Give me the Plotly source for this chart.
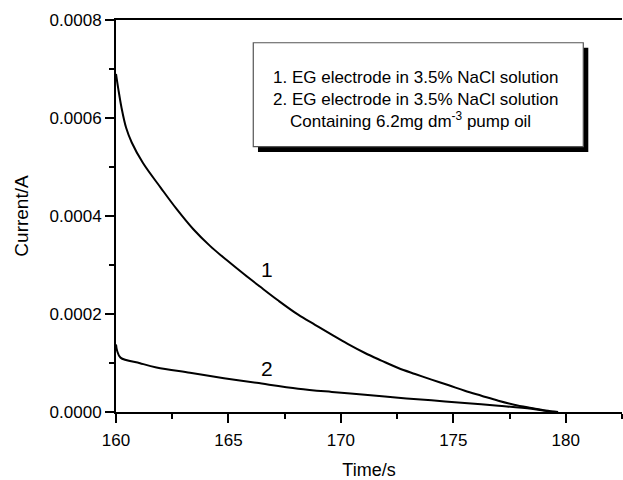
import plotly.graph_objects as go

# Curve 1: EG electrode in 3.5% NaCl
t1 = [160.0, 160.1, 160.25, 160.45, 160.7, 161.2, 162.0, 162.7, 163.44, 164.18, 164.92,
      165.7, 166.4, 167.2, 168.1, 168.85, 169.59, 170.3, 171.07, 171.8, 172.55, 173.3,
      174.03, 174.8, 175.51, 176.25, 177.0, 177.7, 178.47, 179.1, 179.66]
i1 = [0.00069, 0.00066, 0.00062, 0.00058, 0.00055, 0.000508, 0.000457, 0.000414,
      0.000373, 0.000339, 0.000310, 0.000281, 0.000256, 0.000228, 0.0001986, 0.000178,
      0.0001578, 0.000139, 0.0001204, 0.000105, 0.0000898, 0.0000775, 0.000066,
      0.0000545, 0.0000435, 0.0000333, 0.0000231, 0.0000150, 0.0000082, 0.000003, 0.0]

# Curve 2: with 6.2 mg dm-3 pump oil
t2 = [160.0, 160.05, 160.2, 161.07, 161.8, 163.29, 164.8, 166.25, 168.1, 169.6, 171.07,
      172.55, 174.03, 175.5, 177.0, 178.47, 179.4]
i2 = [0.000138, 0.000125, 0.000111, 0.0000995, 0.000091, 0.000080, 0.000069, 0.0000595,
      0.0000476, 0.000041, 0.0000354, 0.000029, 0.0000238, 0.0000183, 0.0000129,
      0.0000068, 0.0]

x_ticks = [160, 165, 170, 175, 180]
y_ticks = [0.0, 0.0002, 0.0004, 0.0006, 0.0008]

legend_lines = ["1. EG electrode in 3.5% NaCl solution",
                "2. EG electrode in 3.5% NaCl solution",
                "Containing 6.2mg dm<sup>-3</sup> pump oil"]

FONT = "Liberation Sans, Arial, sans-serif"
X_RANGE = [160, 182.5]
Y_RANGE = [0, 0.0008]
PLOT_W, PLOT_H = 506, 392

fig = go.Figure()
fig.add_trace(go.Scatter(x=t1, y=i1, mode="lines",
                         line=dict(color="black", width=2, shape="spline")))
fig.add_trace(go.Scatter(x=t2, y=i2, mode="lines",
                         line=dict(color="black", width=2, shape="spline")))

# tick marks as unclipped markers (coincide with the axis ticks)
px_x = (X_RANGE[1] - X_RANGE[0]) / PLOT_W
px_y = (Y_RANGE[1] - Y_RANGE[0]) / PLOT_H
x_minor = [(a + b) / 2 for a, b in zip(x_ticks[:-1], x_ticks[1:])]
y_minor = [(a + b) / 2 for a, b in zip(y_ticks[:-1], y_ticks[1:])]
tick_line = dict(color="black", width=2)
fig.add_trace(go.Scatter(x=x_ticks, y=[Y_RANGE[0] - 4.5 * px_y] * len(x_ticks),
                         mode="markers", cliponaxis=False, hoverinfo="skip",
                         marker=dict(symbol="line-ns", size=6.4, line=tick_line)))
fig.add_trace(go.Scatter(x=x_minor, y=[Y_RANGE[0] - 2.5 * px_y] * len(x_minor),
                         mode="markers", cliponaxis=False, hoverinfo="skip",
                         marker=dict(symbol="line-ns", size=3.6, line=tick_line)))
fig.add_trace(go.Scatter(x=[X_RANGE[0] - 4.5 * px_x] * len(y_ticks), y=y_ticks,
                         mode="markers", cliponaxis=False, hoverinfo="skip",
                         marker=dict(symbol="line-ew", size=6.4, line=tick_line)))
fig.add_trace(go.Scatter(x=[X_RANGE[0] - 2.5 * px_x] * len(y_minor), y=y_minor,
                         mode="markers", cliponaxis=False, hoverinfo="skip",
                         marker=dict(symbol="line-ew", size=3.6, line=tick_line)))

fig.update_layout(
    width=623, height=480,
    margin=dict(l=116, r=1, t=20, b=68),
    plot_bgcolor="white", showlegend=False,
    font=dict(family=FONT, color="black"),
    xaxis=dict(range=X_RANGE, tickmode="linear", tick0=x_ticks[0],
               dtick=x_ticks[1] - x_ticks[0], ticks="outside", ticklen=9,
               tickwidth=2, tickcolor="black", showline=True, linewidth=2,
               linecolor="black", mirror=True, showgrid=False, zeroline=False,
               ticklabelstandoff=3, tickfont=dict(size=17),
               minor=dict(dtick=(x_ticks[1] - x_ticks[0]) / 2, ticks="outside",
                          ticklen=5, tickwidth=2, tickcolor="black"),
               title=dict(text="Time/s", standoff=14, font=dict(size=18))),
    yaxis=dict(range=Y_RANGE, tickmode="linear", tick0=y_ticks[0],
               dtick=y_ticks[1] - y_ticks[0], tickformat=".4f", ticks="outside",
               ticklen=9, tickwidth=2, tickcolor="black", showline=True, linewidth=2,
               linecolor="black", showgrid=False, zeroline=False, tickfont=dict(size=17),
               minor=dict(dtick=(y_ticks[1] - y_ticks[0]) / 2, ticks="outside",
                          ticklen=5, tickwidth=2, tickcolor="black"),
               title=dict(text="Current/A", standoff=16, font=dict(size=19))),
)

# legend box with shadow
fig.add_shape(type="rect", xref="paper", yref="paper", x0=0.2806, x1=0.9334, y0=0.6633,
              y1=0.929, fillcolor="black", line=dict(width=0), layer="below")
fig.add_shape(type="rect", xref="paper", yref="paper", x0=0.2713, x1=0.9235, y0=0.677,
              y1=0.942, fillcolor="white", line=dict(color="#555555", width=1.2),
              layer="below")

legend_y = [0.8525, 0.797, 0.745]
legend_x = [0.591, 0.591, 0.582]
for txt, yy, xx in zip(legend_lines, legend_y, legend_x):
    fig.add_annotation(text=txt, xref="paper", yref="paper", x=xx, y=yy, showarrow=False,
                       xanchor="center", yanchor="middle", font=dict(size=17))

fig.add_annotation(text="1", x=166.7, y=0.00029, showarrow=False, font=dict(size=21))
fig.add_annotation(text="2", x=166.7, y=0.000089, showarrow=False, font=dict(size=21))

fig.write_html("out.html")
